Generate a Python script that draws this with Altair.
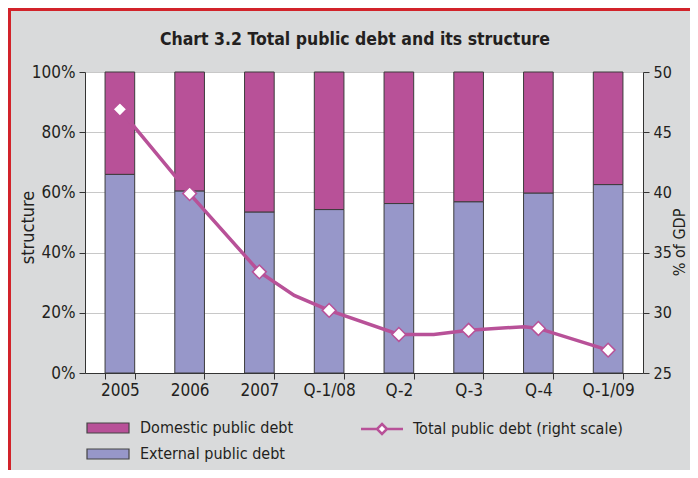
import altair as alt
import pandas as pd

# ---- data ----
categories = ["2005", "2006", "2007", "Q-1/08", "Q-2", "Q-3", "Q-4", "Q-1/09"]
external = [66.0, 60.5, 53.5, 54.3, 56.3, 56.9, 59.8, 62.6]          # % of total debt
domestic = [round(100 - v, 1) for v in external]                     # % of total debt
total_gdp = [46.9, 39.9, 33.4, 30.2, 28.2, 28.55, 28.7, 26.9]       # % of GDP (markers)
# the drawn line (positions in category steps, incl. visible bends between markers)
line_pos = [0.5, 1.5, 2.5, 3.0, 3.5, 4.5, 5.0, 5.5, 6.3, 6.5, 7.5]
line_val = [46.9, 39.9, 33.4, 31.45, 30.2, 28.2, 28.2, 28.55, 28.85, 28.7, 26.9]

DOM = "Domestic public debt"
EXT = "External public debt"
TOT = "Total public debt (right scale)"

MAG = "#B85198"
LAV = "#9797C9"
BG = "#D9DADB"
RED = "#D2232A"
INK = "#231F20"
FONT = "DejaVu Sans Condensed, Liberation Sans, sans-serif"
AX_FS = 17
LEG_FS = 16

bar_df = pd.DataFrame({
    "cat": categories * 2,
    "series": [EXT] * len(categories) + [DOM] * len(categories),
    "value": external + domestic,
    "ord": [0] * len(categories) + [1] * len(categories),
})
line_df = pd.DataFrame({"pos": line_pos, "val": line_val, "series": [TOT] * len(line_pos)})
mark_df = pd.DataFrame({"pos": [i + 0.5 for i in range(len(categories))], "val": total_gdp})

right_axis = alt.Axis(orient="right", values=[25, 30, 35, 40, 45, 50],
                      title="% of GDP", titleFontSize=16, titleFontWeight="normal",
                      titleColor=INK, titleX=41, titleY=170, titleAngle=270,
                      titleBaseline="alphabetic", titleAlign="center",
                      labelFontSize=16, labelColor=INK, labelPadding=4,
                      tickSize=6, domainColor="#333333", tickColor="#333333",
                      grid=False)
right_scale = alt.Scale(domain=[25, 50], nice=False)
line_x_scale = alt.Scale(domain=[0, 8], nice=False)

bars = alt.Chart(bar_df).mark_bar(stroke="#3c3c3c", strokeWidth=1).encode(
    x=alt.X("cat:N", sort=categories,
            scale=alt.Scale(paddingInner=0.575, paddingOuter=0.2875),
            axis=alt.Axis(title=None, labelAngle=0, tickBand="extent", tickSize=6,
                          labelPadding=3, labelFontSize=AX_FS, labelColor=INK,
                          domainColor="#333333", tickColor="#333333", grid=False)),
    y=alt.Y("value:Q", stack="zero", scale=alt.Scale(domain=[0, 100], nice=False),
            axis=alt.Axis(values=[0, 20, 40, 60, 80, 100], labelExpr="datum.value + '%'",
                          title="structure", titleFontSize=AX_FS + 1, titleFontWeight="normal",
                          titleColor=INK, titleX=-52, titleY=155, titleAngle=270,
                          titleBaseline="alphabetic", titleAlign="center",
                          labelFontSize=AX_FS, labelColor=INK, labelPadding=4,
                          tickSize=6, domainColor="#333333", tickColor="#333333",
                          grid=True, gridColor="#C8C8C8", gridWidth=1)),
    fill=alt.Fill("series:N",
                  scale=alt.Scale(domain=[DOM, EXT], range=[MAG, LAV]),
                  legend=alt.Legend(title=None, orient="none", legendX=15, legendY=348,
                                    direction="vertical",
                                    symbolType="M-4.2,-1H4.2V1H-4.2Z", symbolSize=100,
                                    symbolStrokeColor="#444444", symbolStrokeWidth=1.2,
                                    symbolOpacity=1, labelOffset=24, labelFontSize=LEG_FS,
                                    labelColor=INK, rowPadding=10, padding=0,
                                    labelLimit=400)),
    order=alt.Order("ord:Q"),
)

line = alt.Chart(line_df).mark_line(strokeWidth=3.5).encode(
    x=alt.X("pos:Q", scale=line_x_scale, axis=None),
    y=alt.Y("val:Q", scale=right_scale, axis=right_axis),
    stroke=alt.Stroke("series:N", scale=alt.Scale(domain=[TOT], range=[MAG]),
                      legend=alt.Legend(title=None, orient="none", legendX=289, legendY=349,
                                        symbolType="M-4.2,0H-1M1,0H4.2M0,-1L1,0L0,1L-1,0Z",
                                        symbolSize=100, symbolFillColor="white",
                                        symbolStrokeWidth=2.5, labelOffset=23,
                                        labelFontSize=LEG_FS, labelColor=INK, padding=0,
                                        labelLimit=400)),
)

points = alt.Chart(mark_df).mark_point(shape="diamond", filled=True, fill="white",
                                       stroke=MAG, strokeWidth=1.5, size=190,
                                       opacity=1).encode(
    x=alt.X("pos:Q", scale=line_x_scale, axis=None),
    y=alt.Y("val:Q", scale=right_scale, axis=right_axis),
)

frame_df = pd.DataFrame({"a": [0]})
border_left = alt.Chart(frame_df).mark_rule(color=RED, strokeWidth=3).encode(
    x=alt.value(-75.5), y=alt.value(-64), y2=alt.value(398))
border_top = alt.Chart(frame_df).mark_rule(color=RED, strokeWidth=3).encode(
    x=alt.value(-77), x2=alt.value(605), y=alt.value(-62.5))

chart = alt.layer(
    bars,
    alt.layer(line, points),
    border_left,
    border_top,
).resolve_scale(
    x="independent", y="independent"
).properties(
    width=558, height=301,
    padding={"left": 77, "top": 64, "right": 47, "bottom": 97},
    autosize="none",
    background=BG,
    title=alt.TitleParams("Chart 3.2 Total public debt and its structure",
                          anchor="middle", frame="group", fontSize=17.5, fontWeight="bold",
                          font=FONT, color=INK, baseline="alphabetic", offset=15,
                          dx=-9, dy=71),
).configure(
    font=FONT,
).configure_view(
    stroke=None, fill="white"
)

chart.save("out.html", embed_options={"renderer": "svg", "actions": False})
